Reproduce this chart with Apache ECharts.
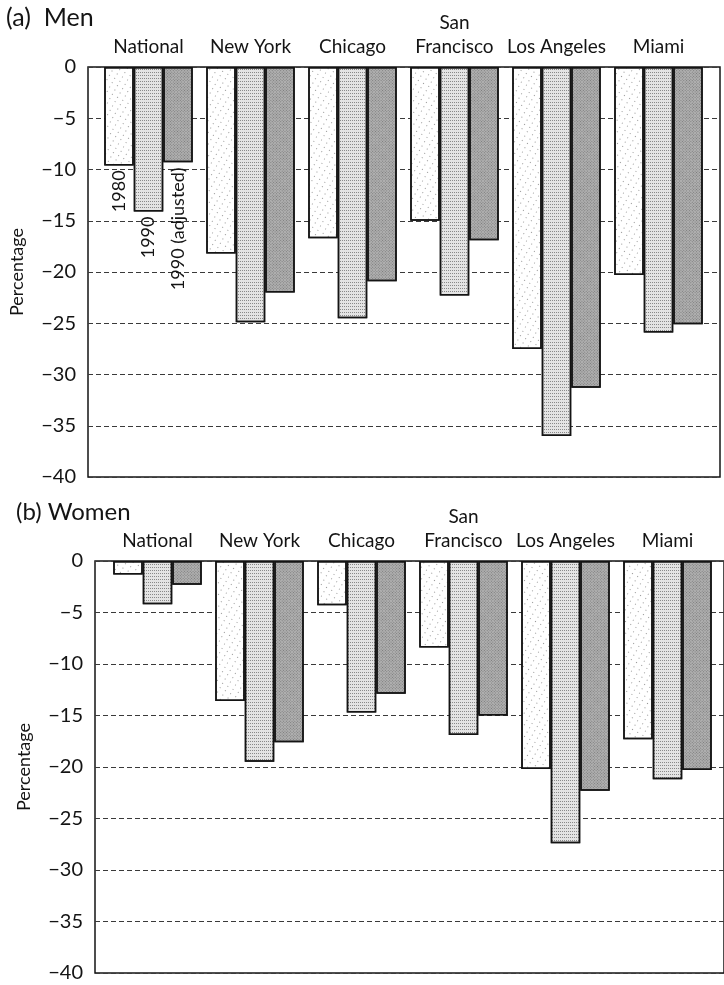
<!DOCTYPE html>
<html>
<head>
<meta charset="utf-8">
<script src="https://cdn.jsdelivr.net/npm/echarts@6/dist/echarts.min.js"></script>
<style>
  html, body { margin: 0; padding: 0; background: #fff; }
  #chart { width: 724px; height: 985px; }
</style>
</head>
<body>
<div id="chart"></div>
<script>
// Earnings gap by city, 1980 vs 1990 (percentages, negative = below reference)
const cities = ['National', 'New York', 'Chicago', 'San\nFrancisco', 'Los Angeles', 'Miami'];
const seriesNames = ['1980', '1990', '1990 (adjusted)'];

const men1980 = [-9.6, -18.2, -16.7, -15.0, -27.5, -20.3];
const men1990 = [-14.1, -24.9, -24.5, -22.3, -36.0, -25.9];
const menAdj  = [-9.3, -22.0, -20.9, -16.9, -31.3, -25.1];

const women1980 = [-1.3, -13.6, -4.3, -8.4, -20.2, -17.3];
const women1990 = [-4.2, -19.5, -14.7, -16.9, -27.4, -21.2];
const womenAdj  = [-2.3, -17.6, -12.9, -15.0, -22.3, -20.3];

const yMin = -40, yMax = 0, yStep = 5;

const FONT = 'Lato';
const INK = '#141414';

// stippled fills for the three bar kinds
const fills = [
  { color: '#ffffff', decal: { symbol: 'rect', symbolSize: 1, dashArrayX: [1, 5], dashArrayY: [1, 4], color: 'rgba(0,0,0,0.4)' } },
  { color: '#e4e4e4', decal: { symbol: 'rect', symbolSize: 1, dashArrayX: [1, 1], dashArrayY: [1, 2], color: 'rgba(0,0,0,0.4)' } },
  { color: '#b0b0b0', decal: { symbol: 'rect', symbolSize: 1, dashArrayX: [1, 1], dashArrayY: [1, 1], color: 'rgba(0,0,0,0.3)' } }
];

const panels = [
  { title: '(a)  Men', titleLeft: 6, titleTop: 5, titleSize: 25,
    values: [men1980, men1990, menAdj],
    frame: { left: 85, right: 4, top: 67, height: 410 },
    bars: { left: 97.5, width: 612 }, keyLabels: true },
  { title: '(b) Women', titleLeft: 16, titleTop: 500, titleSize: 24,
    values: [women1980, women1990, womenAdj],
    frame: { left: 95, right: -40, top: 561, height: 412 },
    bars: { left: 106.5, width: 612 }, keyLabels: false }
];

const minusFmt = v => (v < 0 ? '\u2212' + Math.abs(v) : String(v));

const option = {
  animation: false,
  backgroundColor: '#fff',
  aria: { enabled: true, decal: { show: true } },
  textStyle: { fontFamily: FONT, color: INK },
  title: [], grid: [], xAxis: [], yAxis: [], series: []
};

panels.forEach((p, pi) => {
  const gFrame = pi * 2, gBars = pi * 2 + 1;

  option.title.push({
    text: p.title, left: p.titleLeft, top: p.titleTop, padding: 0,
    textStyle: { fontFamily: FONT, fontSize: p.titleSize, fontWeight: 'normal', color: INK }
  });

  // boxed frame with value axis and dashed gridlines
  option.grid.push({
    left: p.frame.left, right: p.frame.right, top: p.frame.top, height: p.frame.height,
    show: true, borderColor: INK, borderWidth: 1.5, backgroundColor: 'transparent'
  });
  // bar area
  option.grid.push({
    left: p.bars.left, width: p.bars.width, top: p.frame.top, height: p.frame.height
  });

  option.xAxis.push({ gridIndex: gFrame, type: 'value', min: 0, max: 1, show: false });
  option.xAxis.push({
    gridIndex: gBars, type: 'category', position: 'top', data: cities,
    axisLine: { show: false }, axisTick: { show: false },
    axisLabel: { interval: 0, margin: 8, fontSize: 19, lineHeight: 24, color: INK, fontFamily: FONT }
  });

  option.yAxis.push({
    gridIndex: gFrame, type: 'value', min: yMin, max: yMax, interval: yStep,
    axisLine: { show: false }, axisTick: { show: false },
    axisLabel: { margin: 12, fontSize: 20, color: INK, fontFamily: FONT, formatter: minusFmt },
    splitLine: { show: true, lineStyle: { type: [5, 3], color: '#3a3a3a', width: 1 } },
    name: 'Percentage', nameLocation: 'middle', nameRotate: 90, nameGap: 62,
    nameTextStyle: { fontSize: 18, color: INK, fontFamily: FONT }
  });
  option.yAxis.push({ gridIndex: gBars, type: 'value', min: yMin, max: yMax, show: false });

  p.values.forEach((vals, si) => {
    const data = vals.map((v, i) => {
      if (p.keyLabels && i === 0) {
        // series key written upward just below the first group's bars
        return {
          value: v,
          label: {
            show: true, position: 'bottom', distance: 5, rotate: 90,
            align: 'right', verticalAlign: 'middle',
            formatter: '{a}', fontSize: 18, color: INK, fontFamily: FONT
          }
        };
      }
      return v;
    });
    option.series.push({
      type: 'bar', name: seriesNames[si],
      xAxisIndex: gBars, yAxisIndex: gBars,
      barWidth: 29.5, barGap: '0%',
      itemStyle: {
        color: fills[si].color, decal: fills[si].decal,
        borderColor: INK, borderWidth: 1.5
      },
      emphasis: { disabled: true },
      data
    });
  });
});

const chart = echarts.init(document.getElementById('chart'), null, { renderer: 'canvas' });
chart.setOption(option);
</script>
</body>
</html>
